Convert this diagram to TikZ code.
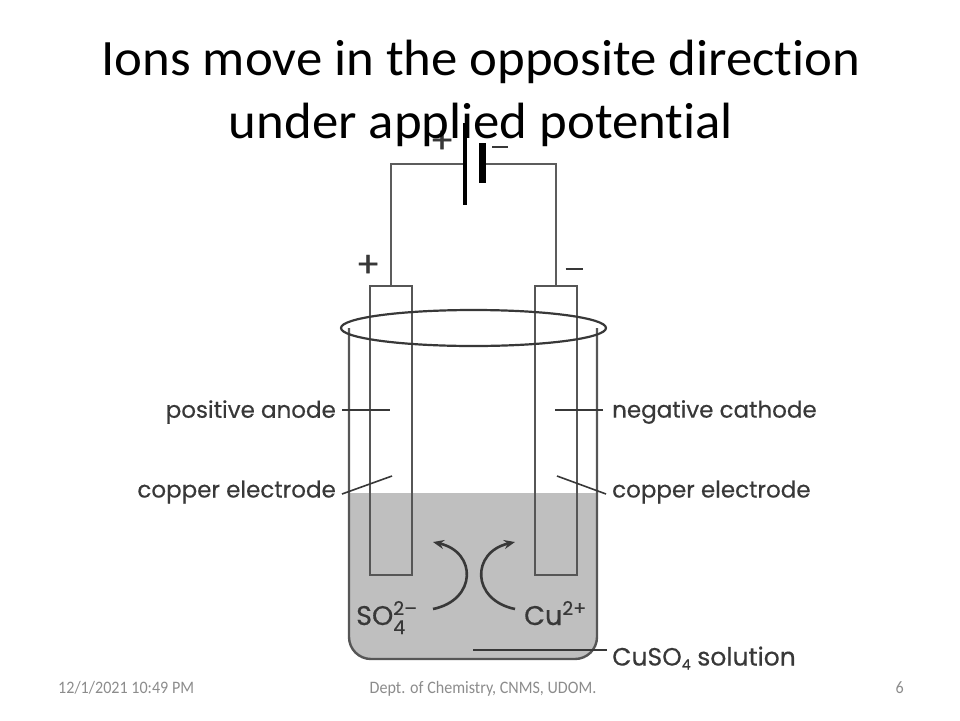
\documentclass[tikz,border=0pt]{standalone}
\usepackage{fontspec}
\setmainfont{Carlito}[Ligatures=NoCommon]
\newfontfamily\ttlfont{Carlito}[Ligatures=NoCommon,FakeStretch=1.035]
\newfontfamily\ftrfont{Carlito}[Ligatures=NoCommon,FakeStretch=0.92]
\newfontfamily\lblfont{Poppins}[FakeBold=0.4]
\usetikzlibrary{arrows.meta,shapes.geometric}
\definecolor{ink}{gray}{0.22}
\definecolor{wire}{gray}{0.36}
\definecolor{liquid}{gray}{0.75}
\definecolor{foot}{gray}{0.55}
\newcommand{\ionsup}[1]{\raisebox{10pt}{\fontsize{19}{20}\selectfont #1}}
\newcommand{\ionsub}[1]{\raisebox{-9pt}{\fontsize{19}{20}\selectfont #1}}
\tikzset{
  wireline/.style={draw=wire,line width=2pt},
  tube/.style={draw=ink!85!white,line width=2pt},
  leader/.style={draw=ink,line width=1.6pt},
  lbl/.style={inner sep=0pt,text=ink,font=\lblfont\fontsize{23}{26}\selectfont},
  ionlbl/.style={inner sep=0pt,text=ink,anchor=base west,font=\lblfont\fontsize{27}{30}\selectfont},
  sym/.style={inner sep=0pt,text=ink,font=\lblfont\fontsize{36}{38}\selectfont},
  ttl/.style={inner sep=0pt,text=black,anchor=base,font=\ttlfont\fontsize{51}{60}\selectfont},
  ftr/.style={inner sep=0pt,text=foot,anchor=base,font=\ftrfont\fontsize{17.5}{20}\selectfont},
  flow/.style={draw=ink,line width=2.6pt,-{Stealth[length=11pt,width=9pt]}},
}
\begin{document}
\begin{tikzpicture}[x=1pt,y=-1pt]
\useasboundingbox (0,0) rectangle (960,720);
% liquid and beaker
\fill[liquid,rounded corners=22pt] (349,493) [sharp corners] -- (597,493) [rounded corners=22pt] -- (597,659) -- (349,659) [sharp corners] -- cycle;
\draw[tube,line width=2.4pt,rounded corners=22pt] (349,328) -- (349,659) -- (597,659) -- (597,328);
% electrodes
\node[tube,minimum width=42pt,minimum height=289pt,inner sep=0pt] (anode) at (391,430.5) {};
\node[tube,minimum width=42pt,minimum height=289pt,inner sep=0pt] (cathode) at (556,430.5) {};
\node[draw=ink,line width=2.2pt,ellipse,minimum width=265pt,minimum height=36pt,inner sep=0pt] (rim) at (473.5,328) {};
% battery
\coordinate (wl) at (391,164);
\coordinate (wr) at (556,164);
\coordinate (bp) at (465,164);
\coordinate (bn) at (482,164);
\draw[wireline] (anode.north) -- (wl) -- (bp);
\draw[wireline] (cathode.north) -- (wr) -- (bn);
\coordinate (bpt) at (465,123);
\coordinate (bpb) at (465,205);
\coordinate (bnt) at (482,143);
\coordinate (bnb) at (482,183);
\draw[black,line width=3.2pt] (bpt) -- (bpb);
\draw[black,line width=7pt] (bnt) -- (bnb);
\node[sym] (bplus) at (442,142) {+};
\node[sym] (bminus) at (500,147) {\rule{16pt}{2pt}};
\node[sym] (eplus) at (368,266) {+};
\node[sym] (eminus) at (574,269) {\rule{17pt}{2pt}};
% labels and leaders
\node[lbl,anchor=east] (la) at (336,412) {positive anode};
\node[lbl,anchor=east] (lc) at (336,492) {copper electrode};
\node[lbl,anchor=west] (ra) at (612,412) {negative cathode};
\node[lbl,anchor=west] (rc) at (612,492) {copper electrode};
\node[lbl,anchor=west,font=\lblfont\fontsize{25}{28}\selectfont] (sol) at (612,658) {CuSO\raisebox{-4pt}{\fontsize{14}{16}\selectfont 4} solution};
\coordinate (la2) at (390,410);
\coordinate (lc2) at (392,476);
\coordinate (ra2) at (555,410);
\coordinate (rc2) at (557,476);
\coordinate (sol2) at (473,650);
\draw[leader] (342,410) -- (la2);
\draw[leader] (342,494) -- (lc2);
\draw[leader] (603,410) -- (ra2);
\draw[leader] (606,494) -- (rc2);
\draw[leader,line width=2.6pt] (607,650) -- (sol2);
% ions
\node[ionlbl] (so) at (356,625) {SO\rlap{\ionsup{2–}}\ionsub{4}};
\node[ionlbl] (cu) at (524,625) {Cu\ionsup{2+}};
\coordinate (so1) at (433,609);
\coordinate (so2) at (433,542);
\coordinate (cu1) at (515,609);
\coordinate (cu2) at (515,542);
\draw[flow] (so1) .. controls (477,600) and (477,552) .. (so2);
\draw[flow] (cu1) .. controls (471,600) and (471,552) .. (cu2);
% title and footer
\node[ttl] (t1) at (481,75) {Ions move in the opposite direction};
\node[ttl] (t2) at (481,138) {under applied potential};
\node[ftr,anchor=base west] (f1) at (58,693) {12/1/2021 10:49 PM};
\node[ftr] (f2) at (483,693) {Dept. of Chemistry, CNMS, UDOM.};
\node[ftr,anchor=base east] (f3) at (904,693) {6};
\end{tikzpicture}
\end{document}
